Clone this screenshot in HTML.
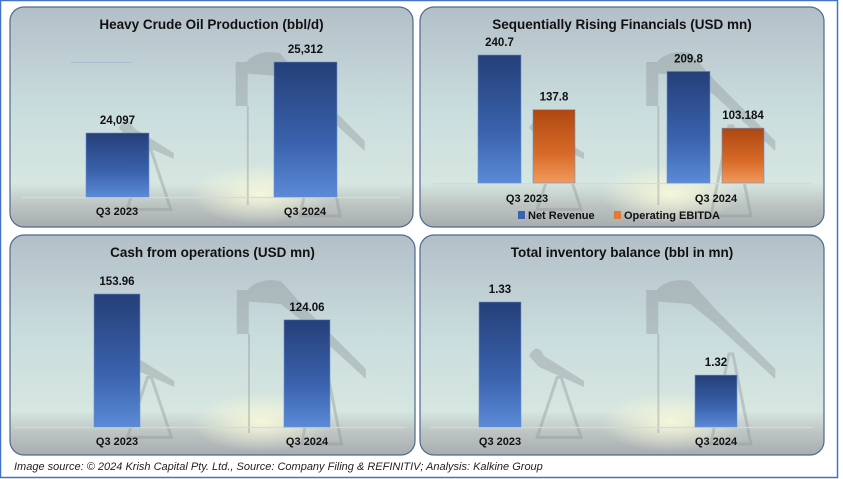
<!DOCTYPE html>
<html><head><meta charset="utf-8"><style>
html,body{margin:0;padding:0;background:#fff;}
svg{display:block;font-family:"Liberation Sans",Arial,sans-serif;}
</style></head><body>
<svg id="s" width="843" height="479" viewBox="0 0 843 479" xmlns="http://www.w3.org/2000/svg">
<defs>
<linearGradient id="sky" x1="0" y1="0" x2="0" y2="1">
<stop offset="0" stop-color="#b3bfc8"/><stop offset="0.45" stop-color="#c9dcdd"/><stop offset="0.8" stop-color="#d6e6e0"/><stop offset="0.9" stop-color="#bcc4c2"/><stop offset="1" stop-color="#a8aeb0"/>
</linearGradient>
<radialGradient id="sun" cx="0.5" cy="0.5" r="0.5"><stop offset="0" stop-color="#f6f7da"/><stop offset="1" stop-color="#f6f7da" stop-opacity="0"/></radialGradient>
<linearGradient id="blue" x1="0" y1="0" x2="0" y2="1"><stop offset="0" stop-color="#253f78"/><stop offset="0.6" stop-color="#3a62ad"/><stop offset="1" stop-color="#5b8ad6"/></linearGradient>
<linearGradient id="orange" x1="0" y1="0" x2="0" y2="1"><stop offset="0" stop-color="#ad4711"/><stop offset="0.6" stop-color="#d86a28"/><stop offset="1" stop-color="#f19a5c"/></linearGradient>
</defs>
<rect x="0.5" y="0.5" width="837" height="477" fill="#fff" stroke="#4472c4" stroke-width="1.5"/>
<g id="panels"></g>
<text x="14" y="470" font-size="11" font-style="italic" fill="#222">Image source: © 2024 Krish Capital Pty. Ltd., Source: Company Filing &amp; REFINITIV; Analysis: Kalkine Group</text>
</svg>
<script>
const p1Categories=["Q3 2023","Q3 2024"];
const p1Values=[24097,25312];
const p1Labels=["24,097","25,312"];
const p2Categories=["Q3 2023","Q3 2024"];
const p2Revenue=[240.7,209.8];
const p2Ebitda=[137.8,103.184];
const p2RevLabels=["240.7","209.8"];
const p2EbLabels=["137.8","103.184"];
const p3Categories=["Q3 2023","Q3 2024"];
const p3Values=[153.96,124.06];
const p3Labels=["153.96","124.06"];
const p4Categories=["Q3 2023","Q3 2024"];
const p4Values=[1.33,1.32];
const p4Labels=["1.33","1.32"];

const NS="http://www.w3.org/2000/svg";
const root=document.getElementById('panels');
function mk(tag,attrs,parent,text){const e=document.createElementNS(NS,tag);for(const k in attrs)e.setAttribute(k,attrs[k]);if(text!==undefined)e.textContent=text;(parent||root).appendChild(e);return e;}
function panel(x,y,w,h,title,name){
  const g=mk('g',{});
  
  
  const r=mk('rect',{x:x,y:y,width:w,height:h,rx:14,fill:'url(#sky)',stroke:'#50698e','stroke-width':1.2},g);
  
  
  mk('ellipse',{cx:x+w*0.62,cy:y+h*0.85,rx:70,ry:30,fill:'url(#sun)'},g);
  const sil=mk('g',{fill:'#8f979a',opacity:0.4},g);
  mk('path',{d:`M${x+w*0.57} ${y+h*0.3} q10 -25 40 -20 l25 28 l60 60 l0 10 l-60 -55 l-25 -20 z`},sil);
  mk('rect',{x:x+w*0.56,y:y+h*0.25,width:12,height:h*0.2},sil);
  mk('line',{x1:x+w*0.59,y1:y+h*0.45,x2:x+w*0.59,y2:y+h*0.9,stroke:'#8f979a','stroke-width':2},sil);
  mk('path',{d:`M${x+w*0.29} ${y+h*0.92} l20 -60 l4 0 l20 60 z`,fill:'none',stroke:'#8f979a','stroke-width':3},sil);
  mk('path',{d:`M${x+w*0.27} ${y+h*0.55} q8 -15 15 0 l40 25 l0 6 l-45 -20 z`},sil);
  mk('path',{d:`M${x+w*0.72} ${y+h*0.95} l18 -90 l4 0 l18 90 z`,fill:'none',stroke:'#8f979a','stroke-width':3},sil);
  const t=mk('text',{x:x+w/2,y:y+22,'text-anchor':'middle','font-size':13.5,'font-weight':'bold',fill:'#111'},g,title);
  
  
  return g;
}
function linScale(d0,d1,r0,r1){return v=>r0+(v-d0)/(d1-d0)*(r1-r0);}
function bar(g,x,w,yTop,yBase,fill,label,name){
  const b=mk('rect',{x:x,y:yTop,width:w,height:yBase-yTop,fill:fill,stroke:'#6d8fcf','stroke-width':0.6},g);
  
  
  const t=mk('text',{x:x+w/2,y:yTop-9,'text-anchor':'middle','font-size':11.5,'font-weight':'bold',fill:'#111'},g,label);
  
  
}
function baseline(g,x1,x2,y){const l=mk('line',{x1:x1,x2:x2,y1:y+0.5,y2:y+0.5,stroke:'#d5d9dc','stroke-width':1.2},g);
  
  }
function catLabel(g,x,y,txt){const t=mk('text',{x:x,y:y,'text-anchor':'middle','font-size':11,'font-weight':'bold',fill:'#111'},g,txt);
  
  }

let g=panel(10,7,403,220,'Heavy Crude Oil Production (bbl/d)','heavy-crude-panel');
let base=197, sy=linScale(23002,25312,base,62);
baseline(g,22,400,base);
[86,274].forEach((bx,i)=>{bar(g,bx,63,sy(p1Values[i]),base,'url(#blue)',p1Labels[i],'bar-production-'+i);catLabel(g,bx+31,215,p1Categories[i]);});
mk('line',{x1:71,x2:133,y1:62.5,y2:62.5,stroke:'#a9bed2','stroke-width':1},g);

g=panel(420,7,404,220,'Sequentially Rising Financials (USD mn)','financials-panel');
base=183; sy=linScale(0,240.7,base,55);
baseline(g,433,812,base);
[478,667].forEach((bx,i)=>{
  bar(g,bx,43,sy(p2Revenue[i]),base,'url(#blue)',p2RevLabels[i],'bar-revenue-'+i);
  bar(g,bx+55,42,sy(p2Ebitda[i]),base,'url(#orange)',p2EbLabels[i],'bar-ebitda-'+i);
  catLabel(g,bx+49,202,p2Categories[i]);
});
let lg=mk('g',{},g);


mk('rect',{x:518,y:211,width:7,height:8,fill:'#3a62ad'},lg);
mk('text',{x:528,y:219,'font-size':11,'font-weight':'bold',fill:'#111'},lg,'Net Revenue');
mk('rect',{x:614,y:211,width:7,height:8,fill:'#e07a35'},lg);
mk('text',{x:624,y:219,'font-size':11,'font-weight':'bold',fill:'#111'},lg,'Operating EBITDA');

g=panel(10,235,405,220,'Cash from operations (USD mn)','cash-operations-panel');
base=427; sy=linScale(0,153.96,base,294);
baseline(g,14,405,base);
[94,284].forEach((bx,i)=>{bar(g,bx,46,sy(p3Values[i]),base,'url(#blue)',p3Labels[i],'bar-cash-'+i);catLabel(g,bx+23,445,p3Categories[i]);});

g=panel(420,235,404,220,'Total inventory balance (bbl in mn)','inventory-panel');
base=427; sy=linScale(1.3129,1.33,base,302);
baseline(g,430,812,base);
[479,695].forEach((bx,i)=>{bar(g,bx,42,sy(p4Values[i]),base,'url(#blue)',p4Labels[i],'bar-inventory-'+i);catLabel(g,bx+21,445,p4Categories[i]);});
</script>
</body></html>
